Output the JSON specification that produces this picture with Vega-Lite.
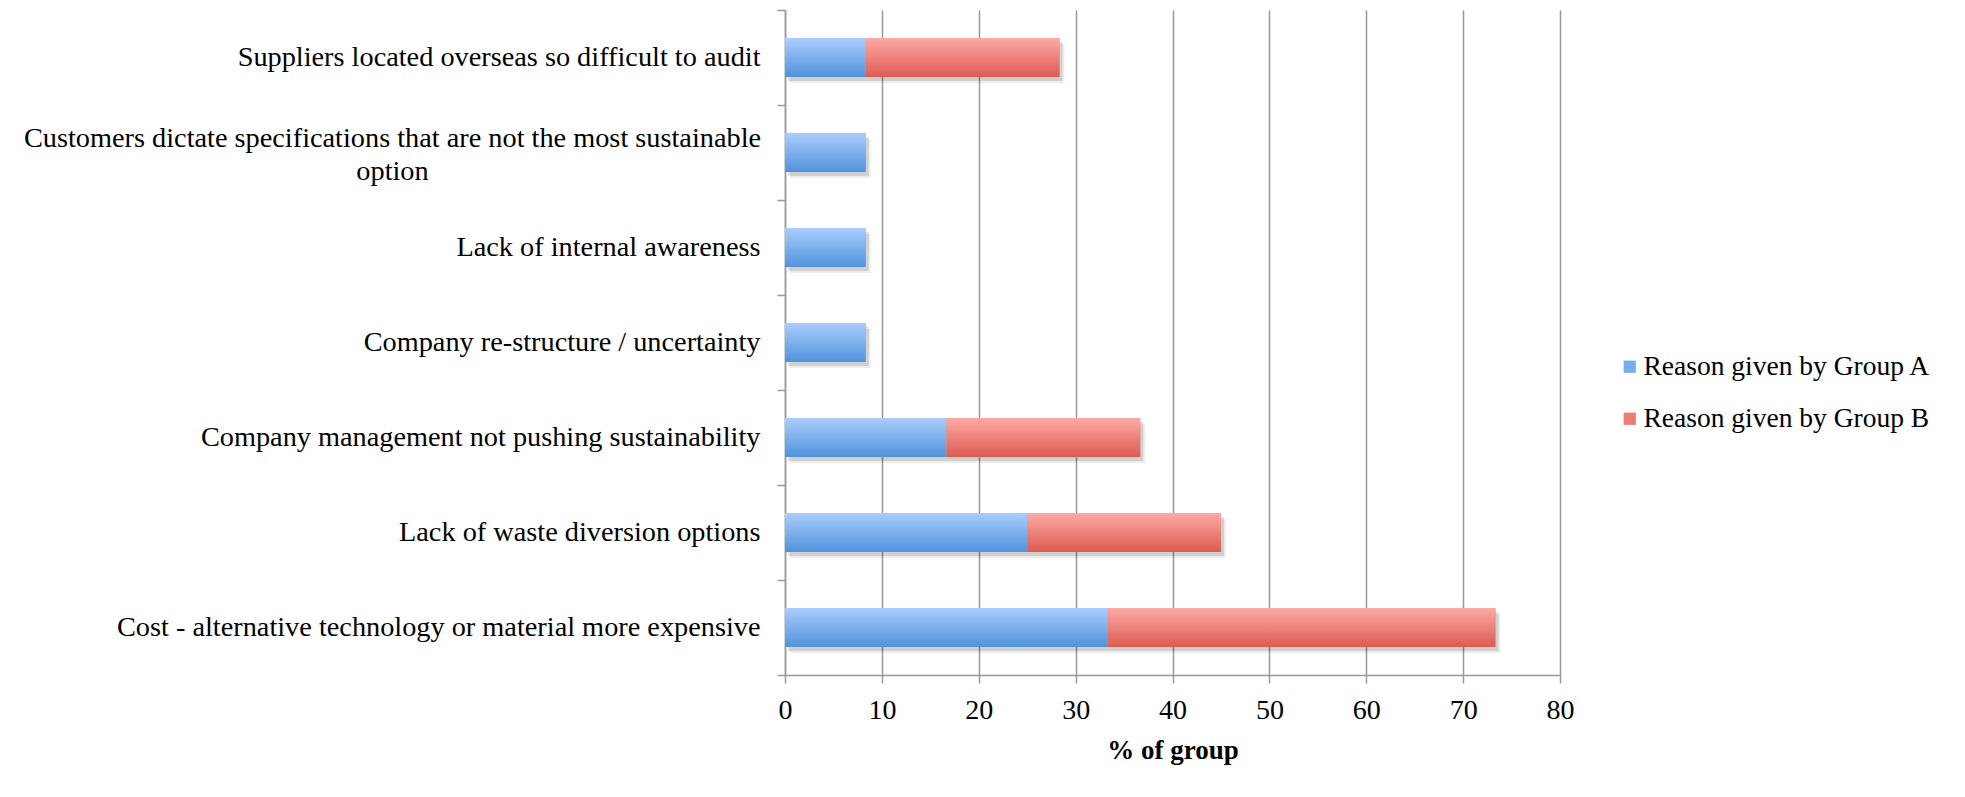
{
  "$schema": "https://vega.github.io/schema/vega-lite/v6.json",
  "width": 775,
  "height": 665,
  "autosize": {"type": "none"},
  "padding": {"left": 785, "top": 10, "right": 405, "bottom": 122},
  "background": "white",
  "config": {
    "view": {"stroke": null},
    "font": "Liberation Serif"
  },
  "data": {
    "values": [
      {"reason": "Suppliers located overseas so difficult to audit", "group": "Reason given by Group A", "pct": 8.33},
      {"reason": "Suppliers located overseas so difficult to audit", "group": "Reason given by Group B", "pct": 20},
      {"reason": "Customers dictate specifications that are not the most sustainable option", "group": "Reason given by Group A", "pct": 8.33},
      {"reason": "Lack of internal awareness", "group": "Reason given by Group A", "pct": 8.33},
      {"reason": "Company re-structure / uncertainty", "group": "Reason given by Group A", "pct": 8.33},
      {"reason": "Company management not pushing sustainability", "group": "Reason given by Group A", "pct": 16.67},
      {"reason": "Company management not pushing sustainability", "group": "Reason given by Group B", "pct": 20},
      {"reason": "Lack of waste diversion options", "group": "Reason given by Group A", "pct": 25},
      {"reason": "Lack of waste diversion options", "group": "Reason given by Group B", "pct": 20},
      {"reason": "Cost - alternative technology or material more expensive", "group": "Reason given by Group A", "pct": 33.33},
      {"reason": "Cost - alternative technology or material more expensive", "group": "Reason given by Group B", "pct": 40}
    ]
  },
  "encoding": {
    "y": {
      "field": "reason",
      "type": "nominal",
      "sort": [
        "Suppliers located overseas so difficult to audit",
        "Customers dictate specifications that are not the most sustainable option",
        "Lack of internal awareness",
        "Company re-structure / uncertainty",
        "Company management not pushing sustainability",
        "Lack of waste diversion options",
        "Cost - alternative technology or material more expensive"
      ],
      "scale": {"paddingInner": 0, "paddingOuter": 0},
      "axis": {
        "title": null,
        "grid": false,
        "tickBand": "extent",
        "tickSize": 8,
        "tickColor": "#9a9a9a",
        "tickWidth": 1.5,
        "domainColor": "#9a9a9a",
        "domainWidth": 1.5,
        "labelFont": "Liberation Serif",
        "labelFontSize": 28.3,
        "labelColor": "#000000",
        "labelLimit": 900,
        "labelLineHeight": 33,
        "labelExpr": "datum.value == 'Customers dictate specifications that are not the most sustainable option' ? ['Customers dictate specifications that are not the most sustainable', 'option'] : datum.label",
        "labelAlign": {
          "condition": {"test": "datum.value == 'Customers dictate specifications that are not the most sustainable option'", "value": "center"},
          "value": "right"
        },
        "labelPadding": {
          "condition": {"test": "datum.value == 'Customers dictate specifications that are not the most sustainable option'", "value": 385},
          "value": 17
        },
        "labelOffset": {
          "condition": {"test": "datum.value == 'Customers dictate specifications that are not the most sustainable option'", "value": -14},
          "value": 0
        }
      }
    },
    "x": {
      "field": "pct",
      "type": "quantitative",
      "stack": "zero",
      "scale": {"domain": [0, 80], "nice": false},
      "axis": {
        "title": "% of group",
        "titleFont": "Liberation Serif",
        "titleFontSize": 27,
        "titleFontWeight": "bold",
        "titleColor": "#000000",
        "titlePadding": 13,
        "values": [0, 10, 20, 30, 40, 50, 60, 70, 80],
        "grid": true,
        "gridColor": "#999999",
        "gridWidth": 1.5,
        "tickSize": 8,
        "tickColor": "#999999",
        "tickWidth": 1.5,
        "domainColor": "#999999",
        "domainWidth": 1.5,
        "labelFont": "Liberation Serif",
        "labelFontSize": 28,
        "labelColor": "#000000",
        "labelPadding": 13,
        "labelFlush": false
      }
    },
    "order": {"field": "group", "type": "nominal"}
  },
  "layer": [
    {
      "mark": {"type": "bar", "height": 39, "color": "#000000", "opacity": 0.07, "xOffset": 5, "yOffset": 6}
    },
    {
      "mark": {"type": "bar", "height": 39, "color": "#000000", "opacity": 0.12, "xOffset": 3, "yOffset": 4}
    },
    {
      "mark": {"type": "bar", "height": 39},
      "encoding": {
        "color": {
          "field": "group",
          "type": "nominal",
          "scale": {
            "domain": ["Reason given by Group A", "Reason given by Group B"],
            "range": ["#77aeea", "#ec7d75"]
          },
          "legend": {
            "title": null,
            "orient": "none",
            "legendX": 831,
            "legendY": 343,
            "symbolType": "square",
            "symbolSize": 150,
            "symbolStrokeWidth": 0,
            "symbolOpacity": 1,
            "labelFont": "Liberation Serif",
            "labelFontSize": 27.5,
            "labelColor": "#000000",
            "labelOffset": 0,
            "labelLimit": 400,
            "rowPadding": 23
          }
        }
      }
    },
    {
      "mark": {"type": "bar", "height": 39},
      "encoding": {
        "color": {
          "condition": {
            "test": "datum.group == 'Reason given by Group A'",
            "value": {"gradient": "linear", "x1": 0, "y1": 0, "x2": 0, "y2": 1, "stops": [{"offset": 0, "color": "#abcdfd"}, {"offset": 1, "color": "#4f93db"}]}
          },
          "value": {"gradient": "linear", "x1": 0, "y1": 0, "x2": 0, "y2": 1, "stops": [{"offset": 0, "color": "#fdaaa5"}, {"offset": 1, "color": "#dc5b51"}]}
        }
      }
    }
  ]
}
